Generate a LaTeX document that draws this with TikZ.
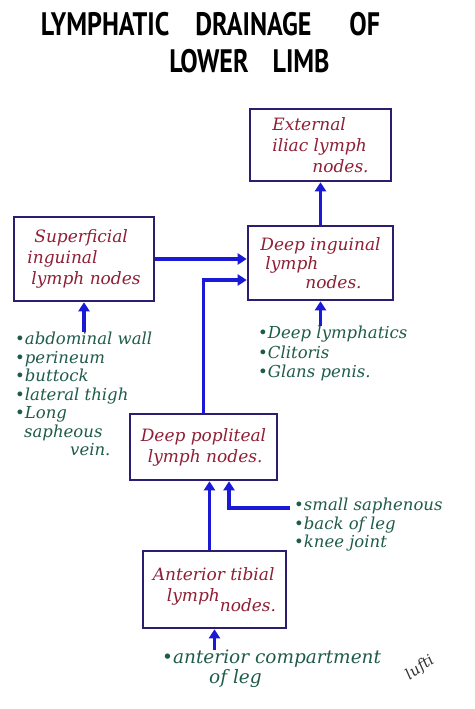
\documentclass[tikz,border=0pt]{standalone}
\usepackage{fontspec}
\usetikzlibrary{arrows.meta,positioning}
\newfontfamily\handfont{DejaVu Serif}
\newfontfamily\titlefont{PT Sans}
\definecolor{boxnavy}{HTML}{2C1D70}
\definecolor{nodered}{HTML}{8E1F35}
\definecolor{listgreen}{HTML}{1F5B4B}
\definecolor{flowblue}{HTML}{1A1AD6}

\begin{document}
\begin{tikzpicture}[x=1pt,y=-1pt,
every node/.style={inner sep=0pt},
lnode/.style={draw=boxnavy, line width=2.6pt, text=nodered, align=left,
  font=\handfont\itshape\fontsize{17}{21}\selectfont},
list/.style={anchor=north west, text=listgreen, align=left,
  font=\handfont\itshape\fontsize{16.5}{18.5}\selectfont},
flow/.style={draw=flowblue, line width=3.4pt, -{Triangle[length=9pt,width=11pt]}}]
\useasboundingbox[fill=white] (0,0) rectangle (474,709);
% title
\node[font=\titlefont\bfseries\fontsize{26}{26}\selectfont] (t1) at (210.5,24)
  {\scalebox{1}[1.25]{LYMPHATIC\hspace{26pt}DRAINAGE\hspace{38pt}OF}};
\node[font=\titlefont\bfseries\fontsize{26}{26}\selectfont] (t2) at (249.5,61)
  {\scalebox{1}[1.25]{LOWER\hspace{24pt}LIMB}};
% boxes
\node[lnode, minimum width=141, minimum height=72] (ext) at (320.5,145)
  {External\\iliac lymph\\\hspace*{40pt}nodes.};
\node[lnode, minimum width=140, minimum height=84] (sup) at (84,259)
  {\hspace*{7pt}Superficial\\inguinal\\\hspace*{4pt}lymph nodes};
\node[lnode, minimum width=145, minimum height=74, font=\handfont\itshape\fontsize{17}{19}\selectfont] (deep) at (320.5,263)
  {Deep inguinal\\\hspace*{5pt}lymph\\\hspace*{45pt}nodes.};
\node[lnode, minimum width=147, minimum height=66] (pop) at (203.5,447)
  {Deep popliteal\\\hspace*{7pt}lymph nodes.};
\node[lnode, minimum width=143, minimum height=77] (tib) at (214.5,589.5)
  {Anterior tibial\\\hspace*{14pt}lymph\raisebox{-10pt}{nodes.}};
% lists
\node[list] (abd) at (15,332)
  {\textbullet abdominal wall\\\textbullet perineum\\\textbullet buttock\\\textbullet lateral thigh\\\textbullet Long\\\hspace*{9pt}sapheous\\\hspace*{55pt}vein.};
\node[list, font=\handfont\itshape\fontsize{16.5}{19.5}\selectfont] (dl) at (258,326)
  {\textbullet Deep lymphatics\\\textbullet Clitoris\\\textbullet Glans penis.};
\node[list] (ss) at (294,498)
  {\textbullet small saphenous\\\textbullet back of leg\\\textbullet knee joint};
\node[list, font=\handfont\itshape\fontsize{18.5}{20}\selectfont] (ant) at (162,650)
  {\textbullet anterior compartment\\\hspace*{47pt}of leg};
\node[rotate=35, text=black!80, font=\handfont\itshape\fontsize{15}{15}\selectfont] (sig) at (420,668)
  {lufti};
% arrows
\coordinate (ssv) at (290,508);
\draw[flow] (deep.north) -- (ext.south);
\draw[flow] (sup.east) -- (sup.east -| deep.west);
\draw[flow] (pop.north) |- ([yshift=-17pt]deep.west);
\draw[flow] (abd.north -| sup.south) -- (sup.south);
\draw[flow] (dl.north -| deep.south) -- (deep.south);
\draw[flow] ([xshift=-5pt]tib.north) -- ([xshift=-5pt]tib.north |- pop.south);
\draw[flow] (ssv) -| ([xshift=25.5pt]pop.south);
\draw[flow] (ant.north -| tib.south) -- (tib.south);
\end{tikzpicture}
\end{document}
